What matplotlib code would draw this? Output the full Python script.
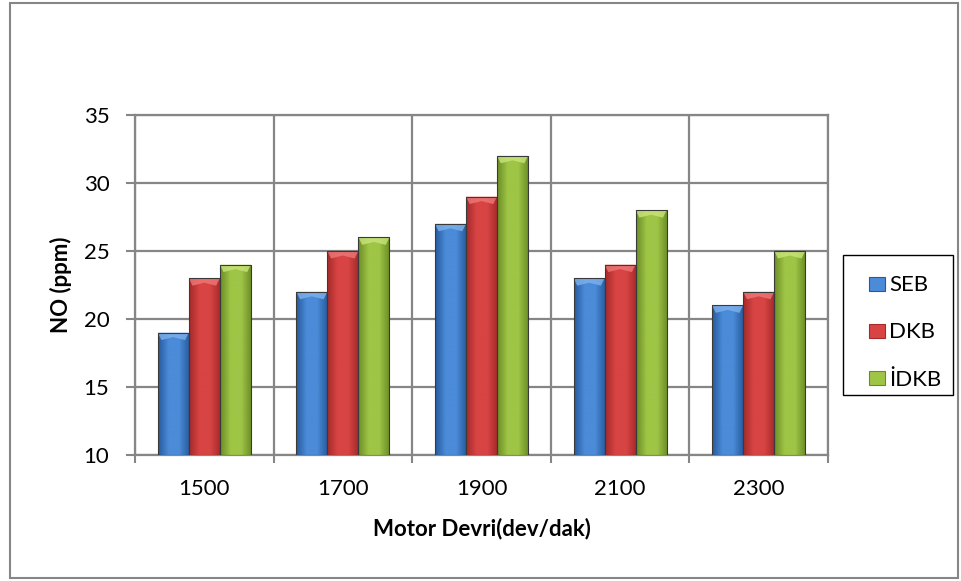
import numpy as np
import matplotlib
matplotlib.use('Agg')
import matplotlib.pyplot as plt
from matplotlib.patches import Rectangle, Polygon
from matplotlib.colors import LinearSegmentedColormap

# ─── data ───────────────────────────────────────────────────────────────────
categories = ['1500', '1700', '1900', '2100', '2300']
seb = [19, 22, 27, 23, 21]
dkb = [23, 25, 29, 24, 22]
idkb = [24, 26, 32, 28, 25]
series_names = ['SEB', 'DKB', 'İDKB']

# (edge, middle, bevel) colours for each series
palette = [('#275a9c', '#4b8bd8', '#7fb2ee'),
           ('#a52a2a', '#d84444', '#f07878'),
           ('#6b8c25', '#9fc546', '#c9e57a')]

plt.rcParams['font.family'] = ['Lato', 'DejaVu Sans']
GRID = '#868686'
W, H = 961, 581

fig = plt.figure(figsize=(W / 100, H / 100), dpi=100)
ax = fig.add_axes([135 / W, 1 - 455 / H, (828 - 135) / W, (455 - 115) / H])

ymin, ymax = 10, 35
x = np.arange(len(categories))
width = 0.224
offsets = [-width, 0, width]


def gradient_bar(ax, xc, h, cols):
    x0, x1 = xc - width / 2, xc + width / 2
    edge, mid, bev = cols
    cmap = LinearSegmentedColormap.from_list('g', [edge, mid, mid, edge])
    grad = np.linspace(0, 1, 64).reshape(1, -1)
    rect = Rectangle((x0, ymin), width, h - ymin, facecolor='none',
                     edgecolor='#3a3a3a', lw=0.8, zorder=4)
    ax.add_patch(rect)
    im = ax.imshow(grad, extent=(x0, x1, ymin, h), aspect='auto',
                   cmap=cmap, zorder=3, interpolation='bilinear')
    im.set_clip_path(rect)
    # top bevel
    d = 0.55
    bevel = Polygon([(x0, h), (x1, h), (x1 - width * 0.12, h - d),
                     (xc, h - d * 0.6), (x0 + width * 0.12, h - d)],
                    closed=True, facecolor=bev, edgecolor='none',
                    alpha=0.8, zorder=3.5)
    ax.add_patch(bevel)


for vals, off, cols in zip([seb, dkb, idkb], offsets, palette):
    for xi, v in zip(x, vals):
        gradient_bar(ax, xi + off, v, cols)

ax.set_xlim(-0.5, len(categories) - 0.5)
ax.set_ylim(ymin, ymax)

ax.set_yticks(range(10, 36, 5))
ax.set_xticks(x)
ax.set_xticklabels(categories)
ax.set_xticks(np.arange(-0.5, len(categories), 1.0), minor=True)
ax.tick_params(axis='x', which='major', length=0, pad=17, labelsize=16)
ax.tick_params(axis='x', which='minor', length=6, width=1.5, color=GRID)
ax.tick_params(axis='y', length=6.5, width=1.5, color=GRID, pad=12, labelsize=16)

ax.grid(axis='y', which='major', color=GRID, lw=1.6, zorder=0)
ax.grid(axis='x', which='minor', color=GRID, lw=1.6, zorder=0)
ax.set_axisbelow(True)
for s in ax.spines.values():
    s.set_color(GRID)
    s.set_linewidth(1.6)

ax.set_xlabel('Motor Devri(dev/dak)', fontsize=16, fontweight='bold', labelpad=14)
ax.set_ylabel('NO (ppm)', fontsize=16, fontweight='bold', labelpad=8)

# legend frame drawn separately, entries placed inside it
fig.patches.append(Rectangle((843 / W, 1 - 395 / H), 110 / W, 140 / H,
                             transform=fig.transFigure, fill=False,
                             edgecolor='black', lw=1.0))
handles = [Rectangle((0, 0), 1, 1, facecolor=c[1], edgecolor=c[0], lw=0.8)
           for c in palette]
leg = fig.legend(handles, series_names, loc='center left',
                 bbox_to_anchor=(869 / W, 1 - 332.5 / H), bbox_transform=fig.transFigure,
                 frameon=False, fontsize=16, labelspacing=1.22,
                 handlelength=0.7, handleheight=0.6, handletextpad=0.2,
                 borderpad=0, borderaxespad=0)

# outer chart border
fig.patches.append(Rectangle((10 / W, 3 / H), 948 / W, 575 / H,
                             transform=fig.transFigure, fill=False,
                             edgecolor=GRID, lw=1.5))

fig.savefig('out.png', dpi=100)
